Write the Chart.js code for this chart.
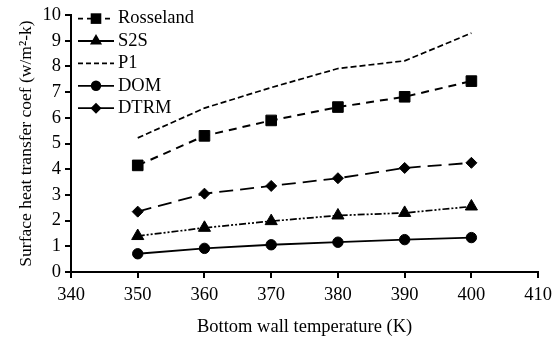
<!DOCTYPE html>
<html>
<head>
<meta charset="utf-8">
<script src="https://cdn.jsdelivr.net/npm/chart.js@4.4.1/dist/chart.umd.min.js"></script>
<style>
  html, body { margin: 0; padding: 0; background: #fff; }
  #wrap { width: 558px; height: 347px; }
</style>
</head>
<body>
<div id="wrap"><canvas id="chart"></canvas></div>
<script>
// data
const temps = [350, 360, 370, 380, 390, 400];
const rosseland = [4.15, 5.3, 5.9, 6.42, 6.82, 7.43];
const s2s = [1.4, 1.72, 1.98, 2.2, 2.3, 2.55];
const p1 = [5.22, 6.38, 7.18, 7.92, 8.22, 9.3];
const dom = [0.71, 0.92, 1.06, 1.16, 1.26, 1.34];
const dtrm = [2.35, 3.05, 3.35, 3.65, 4.05, 4.25];
const xTicks = [340, 350, 360, 370, 380, 390, 400, 410];
const yTicks = [0, 1, 2, 3, 4, 5, 6, 7, 8, 9, 10];

const FONT = '"Liberation Serif", "Times New Roman", serif';

const pts = vals => temps.map((t, i) => ({ x: t, y: vals[i] }));

const series = (label, vals, style, radius, dash, width, legendDash) => ({
    label: label,
    data: pts(vals),
    borderColor: '#000',
    backgroundColor: '#000',
    borderWidth: width,
    borderDash: dash,
    pointStyle: style,
    pointRadius: radius,
    pointBorderWidth: 1,
    pointBackgroundColor: '#000',
    pointBorderColor: '#000',
    tension: 0,
    fill: false,
    legendDash: legendDash
});

// marker shapes for the inner legend
const drawMarker = (ctx, style, r, x, y) => {
    ctx.beginPath();
    if (style === 'rect') {
        const s = r * Math.SQRT1_2;
        ctx.rect(x - s, y - s, 2 * s, 2 * s);
    } else if (style === 'triangle') {
        ctx.moveTo(x, y - r);
        ctx.lineTo(x + r * 0.866, y + r * 0.5);
        ctx.lineTo(x - r * 0.866, y + r * 0.5);
        ctx.closePath();
    } else if (style === 'circle') {
        ctx.arc(x, y, r, 0, Math.PI * 2);
    } else if (style === 'rectRot') {
        ctx.moveTo(x, y - r);
        ctx.lineTo(x + r, y);
        ctx.lineTo(x, y + r);
        ctx.lineTo(x - r, y);
        ctx.closePath();
    }
    ctx.fill();
};

const insideLegend = {
    id: 'insideLegend',
    afterDatasetsDraw(chart) {
        const ctx = chart.ctx;
        const x0 = chart.chartArea.left + 7;
        chart.data.datasets.forEach((ds, i) => {
            const y = chart.chartArea.top + 3.5 + i * 22.4;
            ctx.save();
            ctx.strokeStyle = '#000';
            ctx.fillStyle = '#000';
            ctx.lineWidth = 1.8;
            ctx.setLineDash(ds.legendDash);
            ctx.beginPath();
            ctx.moveTo(x0, y);
            ctx.lineTo(x0 + 36, y);
            ctx.stroke();
            ctx.setLineDash([]);
            if (ds.pointRadius > 0) drawMarker(ctx, ds.pointStyle, ds.pointRadius, x0 + 18, y);
            ctx.font = '18.5px ' + FONT;
            ctx.textBaseline = 'middle';
            ctx.textAlign = 'left';
            ctx.fillText(ds.label, x0 + 40, y);
            ctx.restore();
        });
    }
};

new Chart(document.getElementById('chart'), {
    type: 'line',
    data: {
        datasets: [
            series('Rosseland', rosseland, 'rect', 7.5, [8, 6], 2, [5, 4]),
            series('S2S', s2s, 'triangle', 7, [7, 2, 2, 2, 2, 2], 1.7, []),
            series('P1', p1, 'circle', 0, [6, 3], 1.7, [5, 3]),
            series('DOM', dom, 'circle', 5.2, [], 1.8, []),
            series('DTRM', dtrm, 'rectRot', 5.5, [14, 7], 1.8, [])
        ]
    },
    options: {
        responsive: true,
        maintainAspectRatio: false,
        animation: false,
        layout: { padding: { top: 13, right: 16, left: 1, bottom: 0 } },
        plugins: {
            legend: { display: false },
            tooltip: { enabled: false }
        },
        scales: {
            x: {
                type: 'linear',
                min: 340,
                max: 410,
                afterBuildTicks: s => { s.ticks = xTicks.map(v => ({ value: v })); },
                afterFit: s => { s.height = 75; },
                grid: { drawOnChartArea: false, drawTicks: true, tickLength: 6, color: '#000', lineWidth: 2 },
                border: { color: '#000', width: 2 },
                ticks: { color: '#000', font: { family: FONT, size: 18.5 }, padding: 6, maxRotation: 0 },
                title: {
                    display: true,
                    text: 'Bottom wall temperature (K)',
                    color: '#000',
                    font: { family: FONT, size: 18.5 },
                    padding: { top: 0, bottom: 9 }
                }
            },
            y: {
                min: 0,
                max: 10,
                afterBuildTicks: s => { s.ticks = yTicks.map(v => ({ value: v })); },
                afterFit: s => { s.width = 70; },
                grid: { drawOnChartArea: false, drawTicks: true, tickLength: 6, color: '#000', lineWidth: 2 },
                border: { color: '#000', width: 2 },
                ticks: { color: '#000', font: { family: FONT, size: 18.5 }, padding: 4 },
                title: {
                    display: true,
                    text: 'Surface heat transfer coef (w/m²-k)',
                    color: '#000',
                    font: { family: FONT, size: 17.5 },
                    padding: { top: 15, bottom: 0 }
                }
            }
        }
    },
    plugins: [insideLegend]
});
</script>
</body>
</html>
